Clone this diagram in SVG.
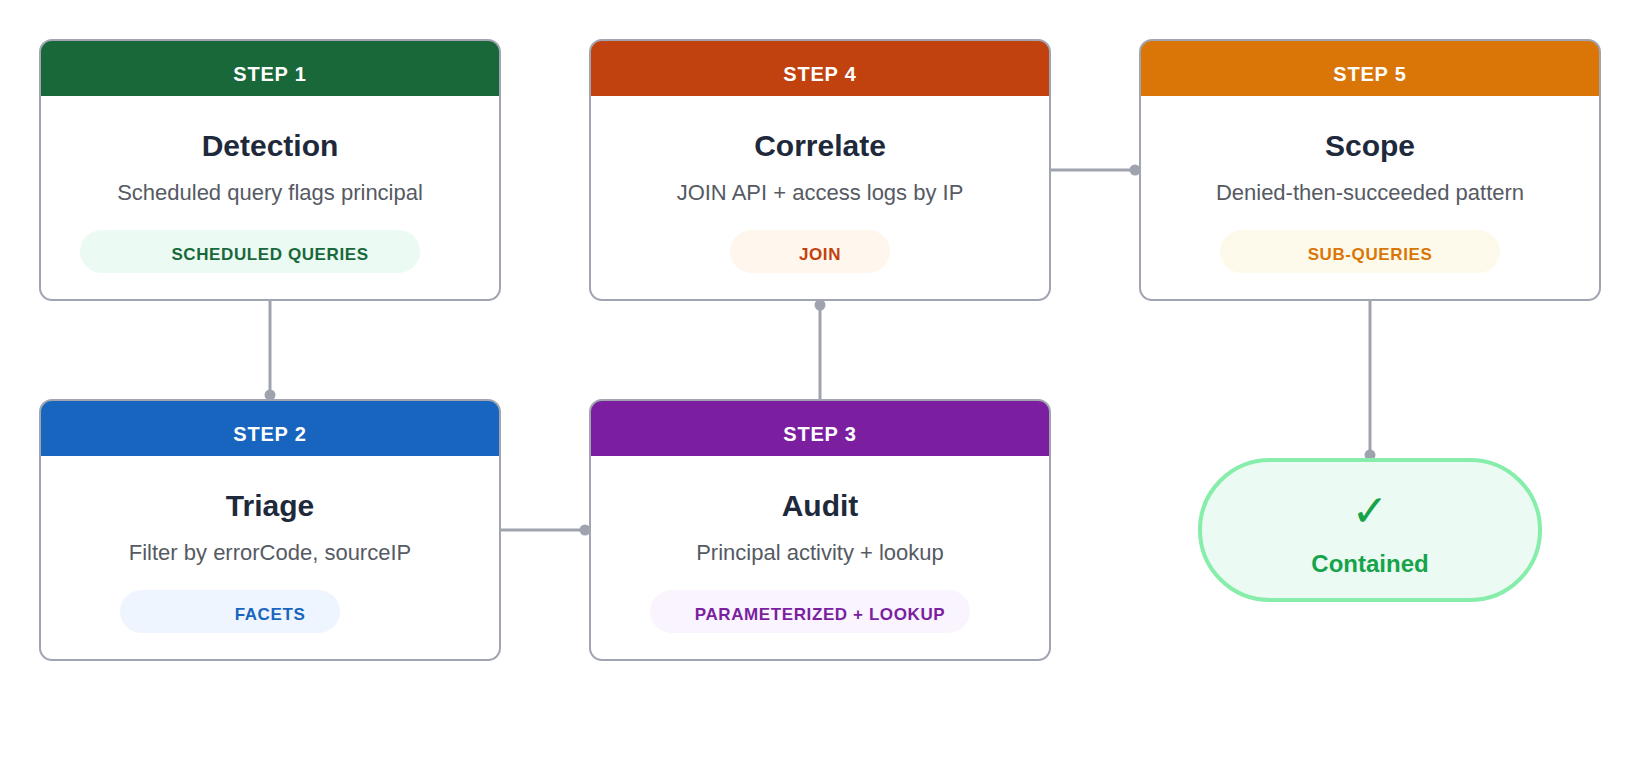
<svg xmlns="http://www.w3.org/2000/svg" width="1640" height="760" viewBox="0 0 1640 760">
  <defs>
    <style>
      text { font-family: "Liberation Sans", Arial, Helvetica, sans-serif; text-anchor: middle; }
      .card { fill: #ffffff; }
      .border { fill: none; stroke: #a1a5b1; stroke-width: 2; }
      .step { fill: #ffffff; font-size: 20px; font-weight: bold; letter-spacing: 0.8px; }
      .title { fill: #1e293b; font-size: 30px; font-weight: bold; }
      .sub { fill: #555a63; font-size: 22px; }
      .pilltxt { font-size: 17px; font-weight: bold; letter-spacing: 0.6px; }
      .conn { fill: none; stroke: #9fa3af; stroke-width: 3; }
    </style>
    <marker id="dot" viewBox="0 0 12 12" refX="11" refY="6" markerWidth="12" markerHeight="12" markerUnits="userSpaceOnUse" orient="auto">
      <circle cx="6" cy="6" r="5.5" fill="#9fa3af"/>
    </marker>
  </defs>
  <rect width="1640" height="760" fill="#ffffff"/>

  <g id="connectors">
    <path class="conn" d="M270,300 L270,400" marker-end="url(#dot)"/>
    <path class="conn" d="M500,530 L590,530" marker-end="url(#dot)"/>
    <path class="conn" d="M820,400 L820,300" marker-end="url(#dot)"/>
    <path class="conn" d="M1050,170 L1140,170" marker-end="url(#dot)"/>
    <path class="conn" d="M1370,300 L1370,460" marker-end="url(#dot)"/>
  </g>

  <g id="step1">
    <rect class="card" x="40" y="40" width="460" height="260" rx="12"/>
    <path d="M40,96 V52 A12,12 0 0 1 52,40 H488 A12,12 0 0 1 500,52 V96 Z" fill="#19683a"/>
    <rect class="border" x="40" y="40" width="460" height="260" rx="12"/>
    <text class="step" x="270" y="81">STEP 1</text>
    <text class="title" x="270" y="156">Detection</text>
    <text class="sub" x="270" y="200">Scheduled query flags principal</text>
    <rect x="80" y="230" width="340" height="43" rx="21.5" fill="#ebfbf3"/>
    <text class="pilltxt" x="270" y="260" fill="#19683a">SCHEDULED QUERIES</text>
  </g>

  <g id="step2">
    <rect class="card" x="40" y="400" width="460" height="260" rx="12"/>
    <path d="M40,456 V412 A12,12 0 0 1 52,400 H488 A12,12 0 0 1 500,412 V456 Z" fill="#1765be"/>
    <rect class="border" x="40" y="400" width="460" height="260" rx="12"/>
    <text class="step" x="270" y="441">STEP 2</text>
    <text class="title" x="270" y="516">Triage</text>
    <text class="sub" x="270" y="560">Filter by errorCode, sourceIP</text>
    <rect x="120" y="590" width="220" height="43" rx="21.5" fill="#eef5fe"/>
    <text class="pilltxt" x="270" y="620" fill="#1765be">FACETS</text>
  </g>

  <g id="step3">
    <rect class="card" x="590" y="400" width="460" height="260" rx="12"/>
    <path d="M590,456 V412 A12,12 0 0 1 602,400 H1038 A12,12 0 0 1 1050,412 V456 Z" fill="#7b1fa0"/>
    <rect class="border" x="590" y="400" width="460" height="260" rx="12"/>
    <text class="step" x="820" y="441">STEP 3</text>
    <text class="title" x="820" y="516">Audit</text>
    <text class="sub" x="820" y="560">Principal activity + lookup</text>
    <rect x="650" y="590" width="320" height="43" rx="21.5" fill="#f9f4fe"/>
    <text class="pilltxt" x="820" y="620" fill="#7b1fa0">PARAMETERIZED + LOOKUP</text>
  </g>

  <g id="step4">
    <rect class="card" x="590" y="40" width="460" height="260" rx="12"/>
    <path d="M590,96 V52 A12,12 0 0 1 602,40 H1038 A12,12 0 0 1 1050,52 V96 Z" fill="#c1420e"/>
    <rect class="border" x="590" y="40" width="460" height="260" rx="12"/>
    <text class="step" x="820" y="81">STEP 4</text>
    <text class="title" x="820" y="156">Correlate</text>
    <text class="sub" x="820" y="200">JOIN API + access logs by IP</text>
    <rect x="730" y="230" width="160" height="43" rx="21.5" fill="#fff6ed"/>
    <text class="pilltxt" x="820" y="260" fill="#c1420e">JOIN</text>
  </g>

  <g id="step5">
    <rect class="card" x="1140" y="40" width="460" height="260" rx="12"/>
    <path d="M1140,96 V52 A12,12 0 0 1 1152,40 H1588 A12,12 0 0 1 1600,52 V96 Z" fill="#d97607"/>
    <rect class="border" x="1140" y="40" width="460" height="260" rx="12"/>
    <text class="step" x="1370" y="81">STEP 5</text>
    <text class="title" x="1370" y="156">Scope</text>
    <text class="sub" x="1370" y="200">Denied-then-succeeded pattern</text>
    <rect x="1220" y="230" width="280" height="43" rx="21.5" fill="#fefaeb"/>
    <text class="pilltxt" x="1370" y="260" fill="#d97607">SUB-QUERIES</text>
  </g>

  <g id="contained">
    <rect x="1200" y="460" width="340" height="140" rx="70" fill="#ebfbf3" stroke="#86eeaa" stroke-width="4"/>
    <text x="1370" y="526" fill="#16a34a" style="font-family: 'DejaVu Sans', sans-serif; font-size: 44px; font-weight: bold;">✓</text>
    <text x="1370" y="572" fill="#16a34a" style="font-size: 24px; font-weight: bold;">Contained</text>
  </g>
</svg>
